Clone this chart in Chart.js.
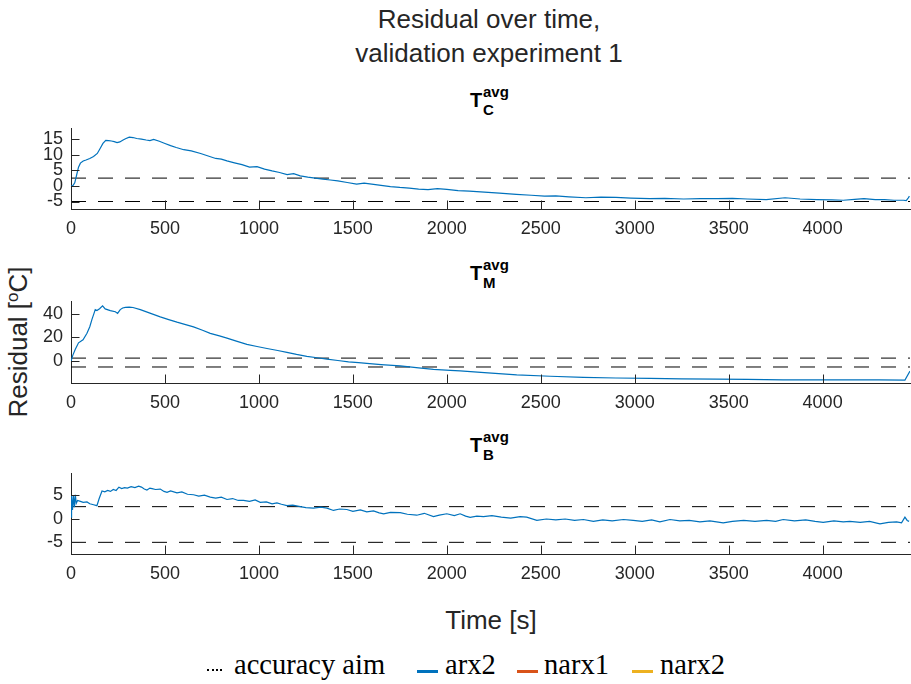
<!DOCTYPE html>
<html>
<head>
<meta charset="utf-8">
<script src="https://cdn.jsdelivr.net/npm/chart.js@4.4.1/dist/chart.umd.min.js"></script>
<style>
html, body { margin: 0; padding: 0; background: #fff; }
#fig { position: relative; width: 911px; height: 684px; overflow: hidden;
       font-family: "Liberation Sans", Arial, sans-serif; color: #262626; }
.abs { position: absolute; white-space: nowrap; }
#title { left: 189px; top: 3px; width: 600px; text-align: center; font-size: 26px; line-height: 33.5px; }
#ylabel { left: -132px; top: 329px; width: 300px; text-align: center; font-size: 26px; line-height: 26px;
          transform: rotate(-90deg); }
#ylabel sup { font-size: 17px; vertical-align: 9px; line-height: 0; }
#xlabel { left: 291px; top: 607px; width: 400px; text-align: center; font-size: 26px; line-height: 26px; }
.ptitle { font-weight: bold; color: #000; line-height: 1; }
.lg { font-family: "Liberation Serif", "DejaVu Serif", serif; font-size: 28.5px; line-height: 28px; top: 651px; color: #000; }
.sw { top: 670px; width: 21px; height: 2.5px; }
.dots { top: 669px; width: 15px; height: 0; border-top: 2.5px dotted #000; }
canvas.panel { position: absolute; left: 0; }
</style>
</head>
<body>
<div id="fig">
  <div id="title" class="abs">Residual over time,<br>validation experiment 1</div>
  <div id="ylabel" class="abs">Residual [<sup>o</sup>C]</div>
  <div id="xlabel" class="abs">Time [s]</div>

  <span class="abs dots" style="left:207px;"></span>
  <span class="abs lg" style="left:234px;">accuracy aim</span>
  <span class="abs sw" style="left:417px; background:#0072BD;"></span>
  <span class="abs lg" style="left:445px;">arx2</span>
  <span class="abs sw" style="left:517px; background:#D95319;"></span>
  <span class="abs lg" style="left:544px;">narx1</span>
  <span class="abs sw" style="left:632px; background:#EDB120;"></span>
  <span class="abs lg" style="left:660px;">narx2</span>
</div>
<script>
// =============================
// DATA
// =============================
const xTicks = [0, 500, 1000, 1500, 2000, 2500, 3000, 3500, 4000];
const aimLevels = [2.5, -5];

// T_C^avg
const timeC = [
    0, 10, 20, 30, 40, 50, 65, 80, 100, 120,
    140, 155, 170, 185, 200, 215, 230, 245, 260, 275,
    290, 310, 330, 350, 375, 400, 420, 440, 470, 500,
    530, 560, 600, 640, 690, 730, 770, 800, 830, 870,
    910, 950, 990, 1030, 1070, 1110, 1150, 1185, 1220, 1260,
    1300, 1340, 1380, 1420, 1470, 1520, 1560, 1600, 1650, 1700,
    1750, 1800, 1850, 1900, 1950, 2000, 2060, 2120, 2200, 2280,
    2370, 2450, 2520, 2580, 2650, 2740, 2820, 2900, 2980, 3080,
    3160, 3260, 3350, 3440, 3520, 3600, 3700, 3800, 3880, 3970,
    4050, 4110, 4170, 4220, 4280, 4330, 4380, 4430, 4445, 4455,
    4462
];
const residC = [
    0, 0.1, 1, 3.5, 6, 7.3, 8, 8.3, 8.8, 9.4,
    10.4, 12, 13.6, 14.6, 14.5, 14.4, 14.2, 13.9, 14.1, 14.6,
    15.1, 15.6, 15.5, 15.2, 15.0, 14.7, 14.5, 14.9, 14.3, 13.6,
    12.9, 12.3, 11.6, 11.2, 10.4, 9.6, 8.8, 8.6, 8.0, 7.4,
    6.8, 6.0, 6.2, 5.4, 4.8, 4.3, 3.6, 3.9, 3.2, 2.8,
    2.5, 2.2, 1.9, 1.6, 1.1, 0.6, 0.9, 0.6, 0.2, -0.2,
    -0.5, -0.7, -1.0, -1.2, -0.9, -1.1, -1.5, -1.7, -2.0, -2.3,
    -2.7, -3.0, -3.3, -3.2, -3.5, -3.8, -3.6, -3.7, -3.9, -4.1,
    -4.0, -4.2, -4.1, -4.1, -4.0, -4.2, -4.4, -3.8, -4.2, -4.4,
    -4.5, -4.6, -4.3, -4.1, -4.4, -4.4, -4.6, -4.6, -4.7, -3.9,
    -3.3
];
const yTicksC = [-5, 0, 5, 10, 15];

// T_M^avg
const timeM = [
    0, 10, 23, 40, 64, 85, 100, 112, 122, 129,
    138, 152, 168, 182, 209, 236, 248, 262, 275, 289,
    310, 330, 369, 420, 475, 520, 564, 610, 652, 700,
    741, 790, 830, 880, 936, 990, 1043, 1100, 1149, 1200,
    1255, 1310, 1362, 1420, 1477, 1530, 1574, 1650, 1752, 1850,
    1929, 2018, 2071, 2200, 2372, 2550, 2727, 2900, 3081, 3250,
    3436, 3600, 3790, 3950, 4145, 4300, 4438, 4465
];
const residM = [
    0, 5, 10, 15.4, 18, 23.4, 29, 35.4, 40, 43.4,
    42.6, 44.2, 46.6, 44, 42.6, 41.6, 40.2, 43.4, 44.8, 45.3,
    45.5, 45.2, 43.4, 40.5, 37.3, 35, 32.8, 30.8, 28.8, 26,
    23.4, 21.2, 19.4, 16.8, 14.1, 12.3, 10.6, 8.9, 7.4, 5.6,
    4.0, 2.8, 1.6, 0.5, -0.6, -1.3, -2.0, -3.0, -4.0, -5.8,
    -7.0, -7.8, -8.3, -9.8, -11.6, -12.8, -13.8, -14.3, -14.6, -15.0,
    -15.2, -15.5, -15.8, -15.8, -15.8, -15.9, -16, -8.5
];
const yTicksM = [0, 20, 40];

// T_B^avg
const timeB = [
    0, 3, 8, 13, 18, 23, 28, 35, 50, 65,
    85, 100, 120, 138, 150, 165, 180, 195, 210, 225,
    240, 255, 270, 285, 300, 320, 340, 360, 375, 390,
    404, 420, 431, 450, 475, 495, 511, 530, 564, 590,
    620, 652, 680, 710, 741, 770, 800, 830, 860, 890,
    918, 950, 980, 1007, 1040, 1070, 1096, 1120, 1149, 1180,
    1220, 1250, 1290, 1330, 1362, 1397, 1430, 1468, 1500, 1540,
    1574, 1610, 1640, 1664, 1700, 1752, 1790, 1840, 1880, 1929,
    1960, 2000, 2040, 2071, 2100, 2124, 2160, 2195, 2240, 2290,
    2340, 2390, 2425, 2479, 2530, 2580, 2630, 2680, 2727, 2780,
    2830, 2880, 2940, 2992, 3040, 3090, 3134, 3188, 3240, 3290,
    3347, 3400, 3471, 3520, 3580, 3640, 3702, 3750, 3790, 3850,
    3910, 3960, 4003, 4060, 4110, 4145, 4200, 4250, 4305, 4350,
    4394, 4420, 4438, 4450, 4460
];
const residB = [
    0.3, 4.8, 1.8, 4.9, 2.4, 5.0, 3.2, 3.8, 3.6, 3.4,
    3.5, 3.1, 2.9, 2.7, 4.2, 5.8, 5.6, 5.9, 5.7, 6.1,
    5.9, 6.6, 6.3, 6.5, 6.4, 6.7, 6.5, 6.8, 6.6, 6.2,
    6.0, 6.4, 6.3, 6.1, 6.2, 5.7, 5.5, 5.8, 5.4, 5.6,
    5.1, 5.0, 4.7, 4.9, 4.5, 4.3, 4.5, 4.0, 4.2, 3.8,
    3.8, 3.6, 3.9, 3.4, 3.5, 3.1, 3.3, 3.0, 2.7, 2.8,
    2.5, 2.3, 2.2, 2.4, 2.2, 1.7, 2.0, 1.9, 1.5, 1.8,
    1.4, 1.6, 1.2, 1.0, 1.3, 1.25, 0.9, 0.7, 1.1, 0.4,
    0.7, 1.0, 0.6, 1.0, 0.5, 0.26, 0.5, 0.4, 0.6, 0.3,
    0.1, 0.4, 0.3, -0.4, -0.1, -0.3, -0.1, -0.4, -0.2, -0.6,
    -0.3, -0.5, -0.2, -0.4, -0.6, -0.3, -0.7, -0.2, -0.5, -0.4,
    -0.7, -0.5, -0.9, -0.6, -0.4, -0.6, -0.4, -0.6, -0.2, -0.5,
    -0.3, -0.6, -0.8, -0.5, -0.7, -0.6, -0.8, -0.6, -1.1, -0.8,
    -0.7, -0.9, 0.3, -0.4, -0.6
];
const yTicksB = [-5, 0, 5];

// =============================
// LAYOUT / STYLE
// =============================
const X_MAX = 4465;
const AXIS_COLOR = '#262626';
const ARX2_COLOR = '#0072BD';
const AIM_COLOR = '#000000';
const PAD_TOP = 14;
const X_AXIS_H = 34;
const Y_AXIS_W = 71;
const TICK_LEN = 8.5;

const panels = [
    { sub: 'C', time: timeC, resid: residC, yTicks: yTicksC, yMin: -7.4, yMax: 18.3, axTop: 124, axBottom: 209 },
    { sub: 'M', time: timeM, resid: residM, yTicks: yTicksM, yMin: -18.5, yMax: 50, axTop: 297, axBottom: 383 },
    { sub: 'B', time: timeB, resid: residB, yTicks: yTicksB, yMin: -7.45, yMax: 9.4, axTop: 469, axBottom: 554 }
];

// inward tick marks like the original figure
const innerTicks = {
    id: 'innerTicks',
    afterDraw(chart) {
        const {ctx, chartArea, scales} = chart;
        ctx.save();
        ctx.strokeStyle = AXIS_COLOR;
        ctx.lineWidth = 1;
        ctx.beginPath();
        scales.x.ticks.forEach(t => {
            const px = Math.round(scales.x.getPixelForValue(t.value)) + 0.5;
            ctx.moveTo(px, chartArea.bottom);
            ctx.lineTo(px, chartArea.bottom - TICK_LEN);
        });
        scales.y.ticks.forEach(t => {
            const py = Math.round(scales.y.getPixelForValue(t.value)) + 0.5;
            ctx.moveTo(chartArea.left, py);
            ctx.lineTo(chartArea.left + TICK_LEN, py);
        });
        ctx.stroke();
        ctx.restore();
    }
};

const fig = document.getElementById('fig');
const tickFont = { family: '"Liberation Sans", Arial, sans-serif', size: 18 };

panels.forEach(p => {
    // subplot title T^avg_sub
    const dy = p.axTop - 124;
    const mk = (txt, left, top, size) => {
        const s = document.createElement('span');
        s.className = 'abs ptitle';
        s.textContent = txt;
        s.style.left = left + 'px';
        s.style.top = top + 'px';
        s.style.fontSize = size + 'px';
        fig.appendChild(s);
    };
    mk('T', 470, 89.8 + dy, 20);
    mk('avg', 483, 83.8 + dy, 15);
    mk(p.sub, 483, 102.3 + dy, 15);

    // canvas for this subplot
    const h = p.axBottom - p.axTop + PAD_TOP + X_AXIS_H;
    const cv = document.createElement('canvas');
    cv.className = 'panel';
    cv.width = 911; cv.height = h;
    cv.style.width = '911px'; cv.style.height = h + 'px';
    cv.style.top = (p.axTop - PAD_TOP) + 'px';
    fig.appendChild(cv);

    const aimSets = aimLevels.map(a => ({
        label: 'accuracy aim',
        data: [{x: 0, y: a}, {x: X_MAX, y: a}],
        borderColor: AIM_COLOR,
        borderWidth: 1,
        borderDash: [15, 12],
        pointRadius: 0
    }));

    new Chart(cv, {
        type: 'line',
        data: {
            datasets: [{
                label: 'arx2',
                data: p.time.map((t, i) => ({x: t, y: p.resid[i]})),
                borderColor: ARX2_COLOR,
                borderWidth: 1.2,
                pointRadius: 0,
                tension: 0
            }].concat(aimSets)
        },
        options: {
            responsive: false,
            animation: false,
            layout: { padding: { top: PAD_TOP, right: 1, left: 0, bottom: 0 } },
            plugins: { legend: { display: false }, tooltip: { enabled: false } },
            scales: {
                x: {
                    type: 'linear', min: 0, max: X_MAX,
                    grid: { display: false, drawTicks: false },
                    border: { display: true, color: AXIS_COLOR, width: 1 },
                    ticks: { font: tickFont, color: AXIS_COLOR, padding: 9, maxRotation: 0, autoSkip: false,
                             callback: v => String(v) },
                    afterBuildTicks: s => { s.ticks = xTicks.map(v => ({value: v})); },
                    afterFit: s => { s.height = X_AXIS_H; }
                },
                y: {
                    type: 'linear', min: p.yMin, max: p.yMax,
                    grid: { display: false, drawTicks: false },
                    border: { display: true, color: AXIS_COLOR, width: 1 },
                    ticks: { font: tickFont, color: AXIS_COLOR, padding: 8, autoSkip: false,
                             callback: v => String(v) },
                    afterBuildTicks: s => { s.ticks = p.yTicks.map(v => ({value: v})); },
                    afterFit: s => { s.width = Y_AXIS_W; }
                }
            }
        },
        plugins: [innerTicks]
    });
});
</script>
</body>
</html>
